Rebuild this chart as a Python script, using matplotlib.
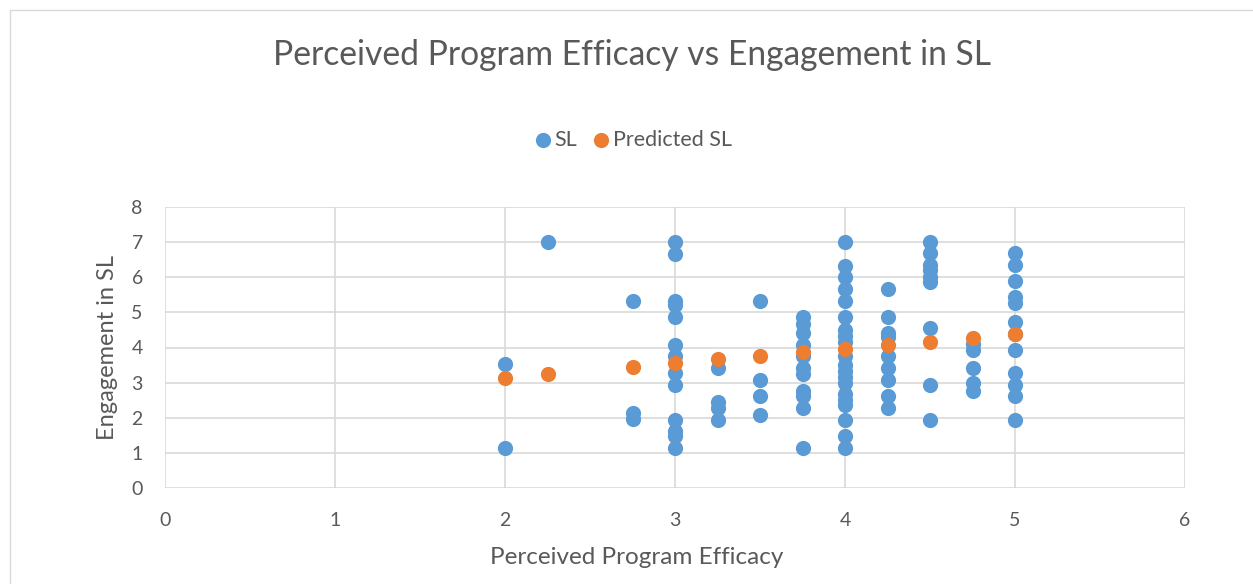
import matplotlib
matplotlib.use("Agg")
import matplotlib.pyplot as plt
from matplotlib.patches import Rectangle

# Data
sl_x = ([2, 2] + [2.25] + [2.75] * 3 +
        [3] * 13 + [3.25] * 4 + [3.5] * 4 + [3.75] * 11 +
        [4] * 20 + [4.25] * 9 + [4.5] * 9 + [4.75] * 5 + [5] * 12)
sl_y = ([3.54, 1.14] + [7.0] + [5.33, 2.13, 1.96] +
        [7.0, 6.67, 5.33, 5.2, 4.87, 4.08, 3.75, 3.27, 2.94, 1.94, 1.61, 1.47, 1.14] +
        [3.41, 2.46, 2.28, 1.94] +
        [5.33, 3.08, 2.61, 2.09] +
        [4.87, 4.67, 4.41, 4.08, 3.75, 3.41, 3.25, 2.75, 2.61, 2.28, 1.14] +
        [7.0, 6.33, 6.0, 5.67, 5.33, 4.87, 4.5, 4.33, 4.17, 3.75, 3.5, 3.33, 3.17, 3.0,
         2.67, 2.5, 2.37, 1.94, 1.49, 1.14] +
        [5.67, 4.87, 4.41, 4.3, 3.75, 3.41, 3.08, 2.61, 2.28] +
        [7.0, 6.69, 6.35, 6.21, 6.02, 5.86, 4.55, 2.94, 1.94] +
        [4.1, 3.94, 3.42, 2.99, 2.75] +
        [6.69, 6.35, 5.88, 5.45, 5.26, 4.74, 3.94, 3.27, 2.94, 2.61, 1.94, 4.38])
pred_x = [2, 2.25, 2.75, 3, 3.25, 3.5, 3.75, 4, 4.25, 4.5, 4.75, 5]
pred_y = [3.14, 3.24, 3.45, 3.56, 3.67, 3.75, 3.86, 3.95, 4.06, 4.17, 4.27, 4.38]

title = "Perceived Program Efficacy vs Engagement in SL"
xlabel = "Perceived Program Efficacy"
ylabel = "Engagement in SL"

plt.rcParams['font.family'] = ['Lato', 'DejaVu Sans']
W, H = 1253, 584
fig = plt.figure(figsize=(W / 100, H / 100), dpi=100)

# chart border
fig.patches.append(Rectangle((10 / W, -0.1), 1.2, (H - 10) / H + 0.1, transform=fig.transFigure,
                             fill=False, edgecolor='#d9d9d9', linewidth=1))

ax = fig.add_axes([165 / W, 1 - 488 / H, (1185 - 165) / W, (488 - 207) / H])
ax.set_xlim(0, 6)
ax.set_ylim(0, 8)
ax.set_xticks(range(0, 7))
ax.set_yticks(range(0, 9))
ax.grid(True, color='#d9d9d9', linewidth=1.2)
ax.set_axisbelow(True)
for s in ax.spines.values():
    s.set_visible(False)
ax.tick_params(axis='x', length=0, colors='#595959', labelsize=14, pad=17)
ax.tick_params(axis='y', length=0, colors='#595959', labelsize=14, pad=16)

ax.scatter(sl_x, sl_y, s=120, color='#5B9BD5', label='SL', zorder=3, linewidths=0)
ax.scatter(pred_x, pred_y, s=120, color='#ED7D31', label='Predicted SL', zorder=4, linewidths=0)

ax.set_xlabel(xlabel, fontsize=17.5, color='#595959')
ax.set_ylabel(ylabel, fontsize=17, color='#595959')
ax.xaxis.label.set_va('center')
ax.yaxis.label.set_va('center')
ax.xaxis.set_label_coords((637 - 165) / 1020, (488 - 557) / 281)
ax.yaxis.set_label_coords((108 - 165) / 1020, 0.5)

fig.text(632 / W, 1 - 55 / H, title, ha='center', va='center', fontsize=24.2, color='#595959')
leg = fig.legend(loc='center', bbox_to_anchor=(632 / W, 1 - 140 / H), ncol=2, frameon=False,
                 fontsize=15.5, handletextpad=0.05, columnspacing=0.6, handlelength=1.0,
                 markerscale=1.0)
for t in leg.get_texts():
    t.set_color('#595959')

fig.savefig('out.png', dpi=100)
